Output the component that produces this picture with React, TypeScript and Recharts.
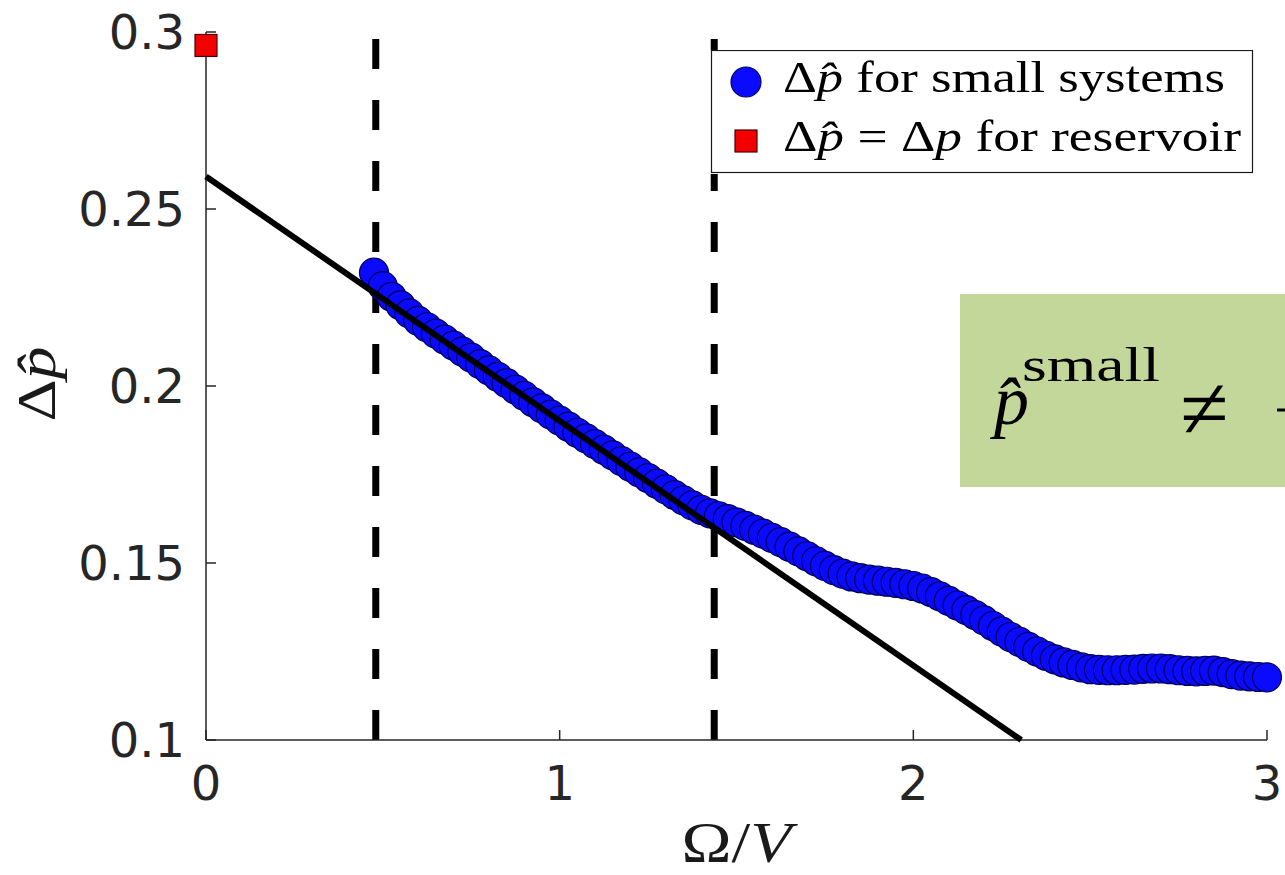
import React from "react";
import { ComposedChart, Scatter, XAxis, YAxis, ReferenceLine, Legend } from "recharts";

// Omega / V for the small-system runs
const omegaOverV = [
  0.475, 0.5, 0.525, 0.55, 0.575, 0.6, 0.625, 0.65, 0.675, 0.7,
  0.725, 0.75, 0.775, 0.8, 0.825, 0.85, 0.875, 0.9, 0.925, 0.95,
  0.975, 1.0, 1.025, 1.05, 1.075, 1.1, 1.125, 1.15, 1.175, 1.2,
  1.225, 1.25, 1.275, 1.3, 1.325, 1.35, 1.375, 1.4, 1.425, 1.45,
  1.475, 1.5, 1.525, 1.55, 1.575, 1.6, 1.625, 1.65, 1.675, 1.7,
  1.725, 1.75, 1.775, 1.8, 1.825, 1.85, 1.875, 1.9, 1.925, 1.95,
  1.975, 2.0, 2.025, 2.05, 2.075, 2.1, 2.125, 2.15, 2.175, 2.2,
  2.225, 2.25, 2.275, 2.3, 2.325, 2.35, 2.375, 2.4, 2.425, 2.45,
  2.475, 2.5, 2.525, 2.55, 2.575, 2.6, 2.625, 2.65, 2.675, 2.7,
  2.725, 2.75, 2.775, 2.8, 2.825, 2.85, 2.875, 2.9, 2.925, 2.95,
  2.975, 3.0,
];

// Delta p-hat measured in the small systems
const deltaPSmall = [
  0.232, 0.2282, 0.2252, 0.2228, 0.2205, 0.2184, 0.2166, 0.2148, 0.2131, 0.2114,
  0.2097, 0.208, 0.2062, 0.2044, 0.2026, 0.2008, 0.199, 0.1972, 0.1954, 0.1937,
  0.1919, 0.1902, 0.1885, 0.1868, 0.1852, 0.1836, 0.182, 0.1804, 0.1788, 0.1772,
  0.1756, 0.174, 0.1724, 0.1708, 0.1692, 0.1677, 0.1663, 0.165, 0.164, 0.1632,
  0.1624, 0.1615, 0.1605, 0.1594, 0.1583, 0.1571, 0.1559, 0.1546, 0.1533, 0.1519,
  0.1505, 0.1492, 0.148, 0.147, 0.1462, 0.1457, 0.1453, 0.145, 0.1447, 0.1444,
  0.144, 0.1435, 0.1428, 0.1418, 0.1406, 0.1393, 0.138, 0.1367, 0.1353, 0.1338,
  0.1322, 0.1306, 0.1291, 0.1277, 0.1263, 0.125, 0.1238, 0.1228, 0.1219, 0.1212,
  0.1205, 0.12, 0.1198, 0.1197, 0.1197, 0.1198, 0.1199, 0.1201, 0.1202, 0.1202,
  0.12, 0.1197, 0.1195, 0.1194, 0.1195, 0.1196, 0.1192, 0.1186, 0.1182, 0.118,
  0.1178, 0.1177,
];

// reservoir value sits at Omega/V = 0
const reservoirX = [0];
const reservoirDeltaP = [0.2962];

// linear fit through the intermediate regime
const fitX = [0, 2.305];
const fitDeltaP = [0.2592, 0.1];

// regime boundaries
const regimeBounds = [0.48, 1.437];

const xTicks = [0, 1, 2, 3];
const yTicks = [0.1, 0.15, 0.2, 0.25, 0.3];

const seriesNames = ["Δp̂ for small systems", "Δp̂ = Δp for reservoir"];

const smallData = omegaOverV.map((x, i) => ({ x, y: deltaPSmall[i] }));
const reservoirData = reservoirX.map((x, i) => ({ x, y: reservoirDeltaP[i] }));
const fitData = fitX.map((x, i) => ({ x, y: fitDeltaP[i] }));

const AXIS = "#262626";
const SERIF = "'Liberation Serif', 'DejaVu Serif', serif";
const SANS = "'DejaVu Sans', sans-serif";

function BlueDot(props: any) {
  return <circle cx={props.cx} cy={props.cy} r={14.5} fill="#0a0aff" stroke="#00005a" strokeWidth={1.2} />;
}

function RedSquare(props: any) {
  return <rect x={props.cx - 11} y={props.cy - 11} width={22} height={22} fill="#f20000" stroke="#4a0000" strokeWidth={1.2} />;
}

function NoMarker() {
  return <g />;
}

function XTick({ x, y, payload }: any) {
  return (
    <g>
      <line x1={x} y1={y} x2={x} y2={y - 10} stroke={AXIS} strokeWidth={1.5} />
      <text x={x} y={y + 60} textAnchor="middle" fontFamily={SANS} fontSize={48} fill={AXIS}>
        {payload.value}
      </text>
    </g>
  );
}

function YTick({ x, y, payload }: any) {
  return (
    <g>
      <line x1={x} y1={y} x2={x + 10} y2={y} stroke={AXIS} strokeWidth={1.5} />
      <text x={x - 21} y={y + 17} textAnchor="end" fontFamily={SANS} fontSize={48} fill={AXIS}>
        {payload.value}
      </text>
    </g>
  );
}

// "Δp̂" / "Δp" with the p set in italics
function MathName({ name }: { name: string }) {
  const parts = name.split(/(Δp̂|Δp)/).filter((s) => s.length > 0);
  return (
    <>
      {parts.map((part, i) =>
        part.startsWith("Δ") ? (
          <React.Fragment key={i}>
            <tspan>Δ</tspan>
            <tspan fontStyle="italic">{part.slice(1)}</tspan>
          </React.Fragment>
        ) : (
          <tspan key={i}>{part}</tspan>
        )
      )}
    </>
  );
}

const rowLengths = [442, 458];

function LegendBox({ payload }: any) {
  const items = (payload || [])
    .filter((p: any) => p.type !== "none")
    .sort((a: any, b: any) => seriesNames.indexOf(a.value) - seriesNames.indexOf(b.value));
  return (
    <svg width={545} height={124} style={{ display: "block" }}>
      <rect x={0} y={0} width={545} height={124} fill="#fff" />
      <rect x={2.5} y={0.5} width={541} height={122} fill="#fff" stroke="#1a1a1a" strokeWidth={1.2} />
      {items.map((item: any, i: number) => {
        const cy = 32 + i * 59;
        return (
          <g key={item.value}>
            {item.type === "square" ? (
              <rect x={26} y={cy - 11} width={22} height={22} fill={item.color} stroke="#4a0000" strokeWidth={1.2} />
            ) : (
              <circle cx={37} cy={cy} r={15} fill={item.color} stroke="#00005a" strokeWidth={1.2} />
            )}
            <text
              x={74}
              y={cy + 10}
              fontFamily={SERIF}
              fontSize={44}
              fill="#000"
              textLength={rowLengths[i]}
              lengthAdjust="spacingAndGlyphs"
            >
              <MathName name={item.value} />
            </text>
          </g>
        );
      })}
    </svg>
  );
}

function YTitle(props: any) {
  const vb = props.viewBox || { x: 0, y: 32, width: 206, height: 708 };
  const cy = vb.y + vb.height / 2 - 2;
  return (
    <text
      transform={`translate(55, ${cy}) rotate(-90)`}
      textAnchor="middle"
      fontFamily={SERIF}
      fontSize={54}
      fill="#1a1a1a"
      textLength={75}
      lengthAdjust="spacingAndGlyphs"
    >
      <tspan>Δ</tspan>
      <tspan fontStyle="italic">p̂</tspan>
    </text>
  );
}

function XTitle(props: any) {
  const vb = props.viewBox || { x: 206, y: 740, width: 1061, height: 135 };
  return (
    <text
      x={vb.x + vb.width / 2}
      y={vb.y + 122}
      textAnchor="middle"
      fontFamily={SERIF}
      fontSize={56}
      fill="#1a1a1a"
      textLength={110}
      lengthAdjust="spacingAndGlyphs"
    >
      <tspan>Ω/</tspan>
      <tspan fontStyle="italic">V</tspan>
    </text>
  );
}

// slide callout that sits over the right part of the axes
function Callout() {
  return (
    <svg
      width={1285}
      height={875}
      style={{ position: "absolute", left: 0, top: 0, pointerEvents: "none" }}
    >
      <rect x={960} y={294} width={325} height={193} fill="#c4d79b" />
      <text fontFamily={SERIF} fill="#000">
        <tspan x={994} y={424} fontSize={70} fontStyle="italic">
          p̂
        </tspan>
        <tspan x={1022} y={381} fontSize={48} textLength={138} lengthAdjust="spacingAndGlyphs">
          small
        </tspan>
        <tspan x={1180} y={438} fontSize={88}>
          ≠
        </tspan>
      </text>
      <line x1={1277} y1={410} x2={1285} y2={410} stroke="#000" strokeWidth={3} />
    </svg>
  );
}

export default function App() {
  return (
    <div style={{ position: "relative", width: 1285, height: 875, background: "#fff" }}>
      <style>{"body{margin:0;background:#fff}"}</style>
      <ComposedChart width={1285} height={875} margin={{ top: 32, right: 18, bottom: 0, left: 0 }}>
        <XAxis
          type="number"
          dataKey="x"
          domain={[0, 3]}
          ticks={xTicks}
          height={135}
          tickSize={0}
          tickMargin={0}
          tick={<XTick />}
          axisLine={{ stroke: AXIS, strokeWidth: 1.5 }}
          label={<XTitle />}
        />
        <YAxis
          type="number"
          dataKey="y"
          domain={[0.1, 0.3]}
          ticks={yTicks}
          width={206}
          tickSize={0}
          tickMargin={0}
          tick={<YTick />}
          axisLine={{ stroke: AXIS, strokeWidth: 1.5 }}
          label={<YTitle />}
        />
        <Scatter
          name={seriesNames[0]}
          data={smallData}
          fill="#0a0aff"
          shape={<BlueDot />}
          legendType="circle"
          isAnimationActive={false}
        />
        <Scatter
          name="fit"
          data={fitData}
          line={{ stroke: "#000", strokeWidth: 6 }}
          shape={<NoMarker />}
          legendType="none"
          isAnimationActive={false}
        />
        {regimeBounds.map((b) => (
          <ReferenceLine key={b} x={b} stroke="#000" strokeWidth={7} strokeDasharray="30 31" />
        ))}
        <Scatter
          name={seriesNames[1]}
          data={reservoirData}
          fill="#f20000"
          shape={<RedSquare />}
          legendType="square"
          isAnimationActive={false}
        />
        <Legend
          layout="horizontal"
          align="center"
          verticalAlign="middle"
          wrapperStyle={{ left: 709, top: 50, width: 545, height: 124 }}
          content={<LegendBox />}
        />
      </ComposedChart>
      <Callout />
    </div>
  );
}
